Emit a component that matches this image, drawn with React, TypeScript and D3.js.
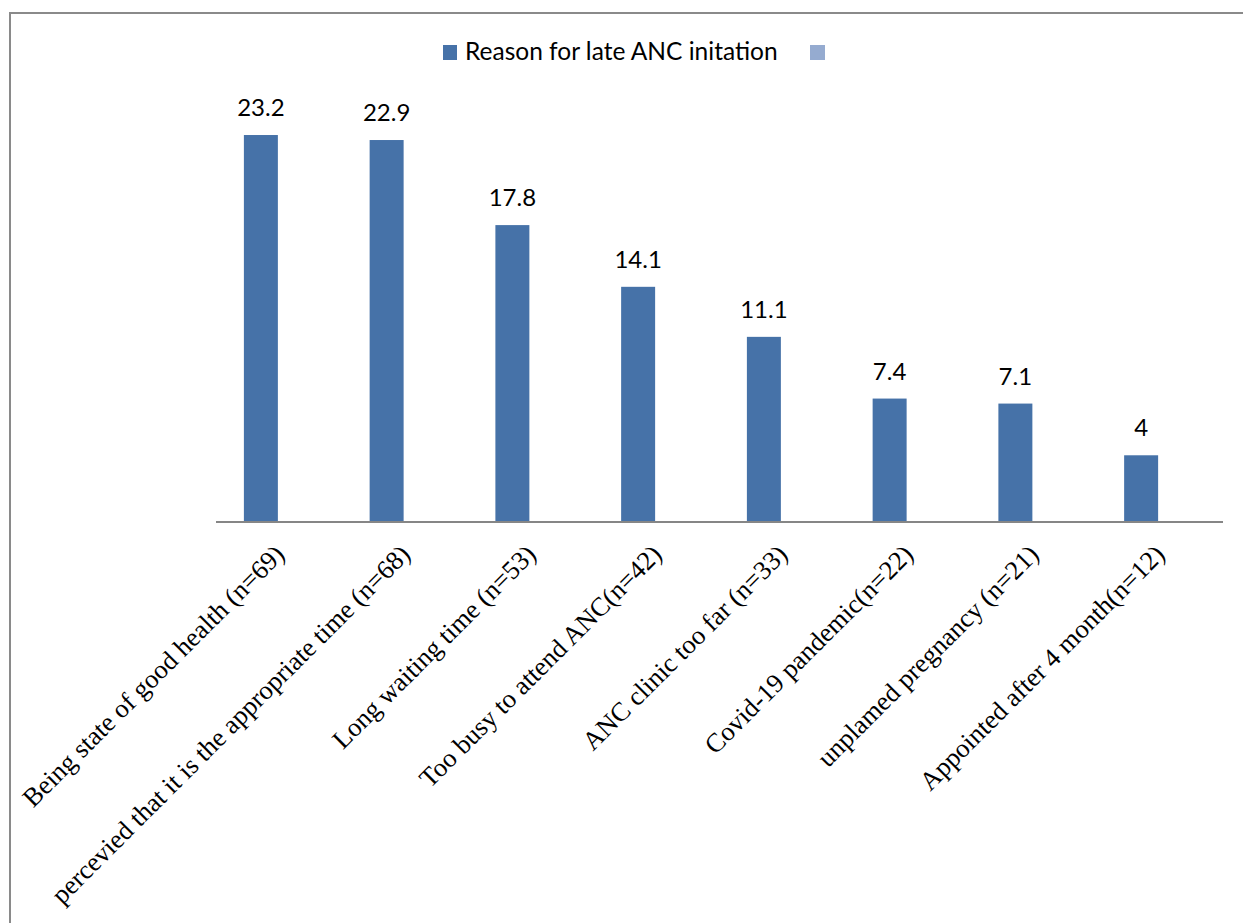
import React, { useEffect, useRef } from 'react';
import * as d3 from 'd3';

const categories = [
  'Being state of good health (n=69)',
  'percevied that it is the appropriate time (n=68)',
  'Long waiting time (n=53)',
  'Too busy to attend ANC(n=42)',
  'ANC clinic too far (n=33)',
  'Covid-19 pandemic(n=22)',
  'unplamed pregnancy (n=21)',
  'Appointed after 4 month(n=12)',
];

const values = [23.2, 22.9, 17.8, 14.1, 11.1, 7.4, 7.1, 4];

const seriesNames = ['Reason for late ANC initation', ''];
const seriesColors = ['#4672a8', '#95abd0'];

const App: React.FC = () => {
  const svgRef = useRef<SVGSVGElement>(null);

  useEffect(() => {
    drawChart();
  }, []);

  const drawChart = () => {
    const svg = d3.select(svgRef.current!);
    svg.selectAll('*').remove();

    const width = 1243;
    const height = 923;

    // Outer frame (only top and left edges visible in picture)
    svg
      .append('path')
      .attr('d', `M10,${height} V13 H${width}`)
      .attr('fill', 'none')
      .attr('stroke', '#8a8a8a')
      .attr('stroke-width', 2);

    const plotLeft = 215;
    const plotRight = 1221;
    const baseY = 522;

    const xScale = d3
      .scaleBand<string>()
      .domain(categories)
      .range([plotLeft, plotRight])
      .padding(0);

    // two series per category, second one empty
    const subScale = d3
      .scaleBand<string>()
      .domain(['0', '1'])
      .range([0, xScale.bandwidth()])
      .paddingInner(0)
      .paddingOuter(0.85);

    const yScale = d3.scaleLinear().domain([0, 25]).range([baseY, baseY - 25 * 16.68]);

    // Bars
    svg
      .selectAll('.bar')
      .data(values)
      .enter()
      .append('rect')
      .attr('class', 'bar')
      .attr('x', (d, i) => (xScale(categories[i]) as number) + (subScale('0') as number))
      .attr('y', (d) => yScale(d))
      .attr('width', subScale.bandwidth())
      .attr('height', (d) => yScale(0) - yScale(d))
      .attr('fill', seriesColors[0]);

    // Value labels
    svg
      .selectAll('.val')
      .data(values)
      .enter()
      .append('text')
      .attr('class', 'val')
      .attr('x', (d, i) => (xScale(categories[i]) as number) + (subScale('0') as number) + subScale.bandwidth() / 2)
      .attr('y', (d) => yScale(d) - 19)
      .attr('text-anchor', 'middle')
      .attr('font-family', 'Lato, "Open Sans", sans-serif')
      .attr('font-size', 24)
      .attr('fill', '#000')
      .text((d) => String(d));

    // x axis line
    svg
      .append('line')
      .attr('x1', plotLeft + 1)
      .attr('x2', plotRight + 2)
      .attr('y1', baseY)
      .attr('y2', baseY)
      .attr('stroke', '#868686')
      .attr('stroke-width', 2);

    // Category labels, rotated
    svg
      .selectAll('.cat')
      .data(categories)
      .enter()
      .append('text')
      .attr('class', 'cat')
      .attr('transform', (d) => {
        const cx = (xScale(d) as number) + xScale.bandwidth() / 2 + 8;
        return `translate(${cx}, 556) rotate(-45)`;
      })
      .attr('text-anchor', 'end')
      .attr('font-family', '"Liberation Serif", "Times New Roman", serif')
      .attr('font-size', 26.5)
      .attr('fill', '#000')
      .text((d) => d);

    // Legend
    const legend = svg.append('g').attr('transform', 'translate(443, 45)');
    legend.append('rect').attr('width', 14).attr('height', 15).attr('fill', seriesColors[0]);
    legend
      .append('text')
      .attr('x', 22)
      .attr('y', 15)
      .attr('font-family', 'Lato, "Open Sans", sans-serif')
      .attr('font-size', 24.5)
      .attr('fill', '#000')
      .text(seriesNames[0]);
    legend.append('rect').attr('x', 367).attr('width', 15).attr('height', 15).attr('fill', seriesColors[1]);
  };

  return (
    <svg
      ref={svgRef}
      width={1243}
      height={923}
      style={{ position: 'absolute', left: 0, top: 0, background: '#fff' }}
    />
  );
};

export default App;
